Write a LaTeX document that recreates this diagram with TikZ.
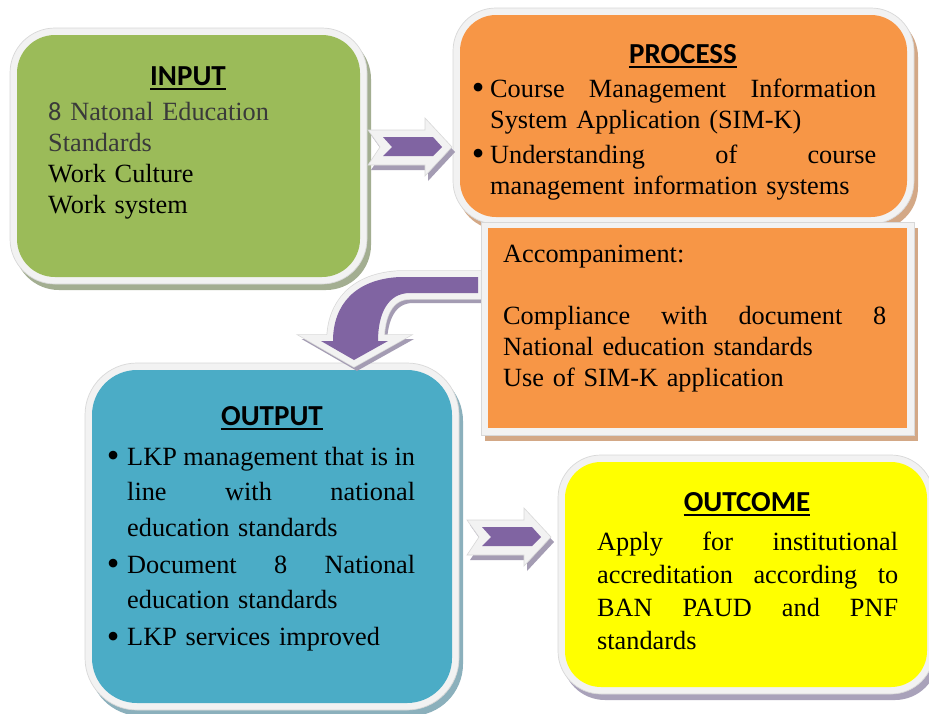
\documentclass[tikz,border=0pt]{standalone}
\usepackage{fontspec}
\setmainfont{Liberation Serif}
\newfontfamily\carlito{Carlito}
\usetikzlibrary{calc}
\definecolor{grn}{HTML}{9BBB59}
\definecolor{org}{HTML}{F79646}
\definecolor{blu}{HTML}{4BACC6}
\definecolor{yel}{HTML}{FFFF00}
\definecolor{pur}{HTML}{8064A2}
\definecolor{wb}{HTML}{F2F2F2}
\definecolor{wbl}{HTML}{D8D8D8}
\definecolor{grsh}{HTML}{A3AE91}
\definecolor{orsh}{HTML}{D3A886}
\definecolor{blsh}{HTML}{8BB0BC}
\definecolor{yesh}{HTML}{A9A2BA}
\definecolor{arsh}{HTML}{A49CB3}
\definecolor{dg}{HTML}{3A3A3A}
\newcommand\bul[1]{\leavevmode\llap{\raisebox{-2.6pt}{\fontsize{36}{36}\selectfont\textbullet}\hspace{#1}}}
\newcommand\jl[2]{\leavevmode\hbox to #1pt{#2}}
\newcommand\sh{\hskip 6.6pt minus 4pt\relax}
% box: x1 y1 x2 y2 radius fill shadow
\newcommand\mybox[7]{%
  \fill[#7,rounded corners=#5+7] (#1-7+4,#2-7+6) rectangle (#3+7+4,#4+7+6);
  \filldraw[fill=wb,draw=wbl,line width=0.7,rounded corners=#5+7] (#1-7,#2-7) rectangle (#3+7,#4+7);
  \fill[#6,rounded corners=#5] (#1,#2) rectangle (#3,#4);}
\newcommand\rarrow[2]{%
  \begin{scope}[shift={(#1,#2)}]
    \fill[arsh] (-15+3,-17+5) -- (42+3,-17+5) -- (42+3,-29+5) -- (69+3,0+5) -- (42+3,29+5) -- (42+3,18+5) -- (-15+3,18+5) -- (-3+3,0+5) -- cycle;
    \filldraw[fill=wb,draw=wbl,line width=0.6] (-15,-17) -- (42,-17) -- (42,-29) -- (69,0) -- (42,29) -- (42,18) -- (-15,18) -- (-3,0) -- cycle;
    \fill[pur] (0,-10) -- (50,-10) -- (59,0) -- (50,9) -- (0,9) -- (9,0) -- cycle;
  \end{scope}}
\newcommand\ttlul[1]{\draw[line width=1.8] ($(#1.base west)+(0,4)$) -- ($(#1.base east)+(0,4)$);}
\begin{document}
\begin{tikzpicture}[x=1pt,y=-1pt,
  ttl/.style={font=\carlito\bfseries\fontsize{29}{34}\selectfont,inner sep=0,anchor=base},
  body/.style={font=\fontsize{26.3}{31}\selectfont,inner sep=0,anchor=base west}]
\useasboundingbox (0,0) rectangle (929,713);
\fill[white] (0,0) rectangle (929,713);
\clip (0,0) rectangle (929,713);
% boxes
\mybox{17}{35}{360}{277}{38}{grn}{grsh}
\mybox{460}{15}{907}{217}{36}{org}{orsh}
\mybox{92}{370}{452}{703}{45}{blu}{blsh}
\mybox{565}{462}{927}{687}{36}{yel}{yesh}
% curved arrow
\begin{scope}[shift={(3,4)}]
\filldraw[arsh,line width=12,line join=miter] (478,277) -- (400,277) .. controls (355,279) and (333,305) .. (333,341) -- (321,341) -- (354,360) -- (388,341) -- (378,341) .. controls (378,315) and (387,293) .. (410,293) -- (478,293) -- cycle;
\end{scope}
\draw[wbl,line width=13.4,line join=miter] (478,277) -- (400,277) .. controls (355,279) and (333,305) .. (333,341) -- (321,341) -- (354,360) -- (388,341) -- (378,341) .. controls (378,315) and (387,293) .. (410,293) -- (478,293) -- cycle;
\draw[wb,line width=12,line join=miter] (478,277) -- (400,277) .. controls (355,279) and (333,305) .. (333,341) -- (321,341) -- (354,360) -- (388,341) -- (378,341) .. controls (378,315) and (387,293) .. (410,293) -- (478,293) -- cycle;
\fill[pur] (478,277) -- (400,277) .. controls (355,279) and (333,305) .. (333,341) -- (321,341) -- (354,360) -- (388,341) -- (378,341) .. controls (378,315) and (387,293) .. (410,293) -- (478,293) -- cycle;
% accompaniment box
\fill[orsh] (485,228) rectangle (918,441);
\filldraw[fill=wb,draw=wbl,line width=0.7] (481,222) rectangle (914,435);
\fill[org] (488,228) rectangle (907,428);
% straight arrows
\rarrow{383}{147}
\rarrow{482}{537}
% texts
\node[ttl] (inT) at (188,85) {INPUT}; \ttlul{inT}
\node[body,text width=300] (inB) at (48,120) {{\color{dg}{\carlito 8} Natonal Education\\Standards}\\Work Culture\\Work system};
\node[ttl] (prT) at (683,63) {PROCESS}; \ttlul{prT}
\node[body,text width=386] (prB) at (490,97) {\bul{5.7pt}\jl{386}{Course\hfill Management\hfill Information}\\System Application (SIM-K)\par\vspace{4pt}\bul{5.7pt}\jl{386}{Understanding\hfill of\hfill course}\\management information systems};
\node[body,text width=383] (acB) at (503,262) {Accompaniment:\\\mbox{}\\\jl{383}{Compliance\hfill with\hfill document\hfill 8}\\National education standards\\Use of SIM-K application};
\node[ttl] (ouT) at (272,425) {OUTPUT}; \ttlul{ouT}
\node[body,text width=288,font=\fontsize{26.3}{35.5}\selectfont] (ouB) at (127,465) {\bul{7.7pt}\jl{288}{LKP\sh management\sh that\sh is\sh in}\\\jl{288}{line\hfill with\hfill national}\\education standards\par\vspace{1.5pt}\bul{7.7pt}\jl{288}{Document\hfill 8\hfill National}\\education standards\par\vspace{1.5pt}\bul{7.7pt}LKP services improved};
\node[ttl] (ocT) at (747,511) {OUTCOME}; \ttlul{ocT}
\node[body,text width=301,font=\fontsize{26.3}{33}\selectfont] (ocB) at (597,550) {\jl{301}{Apply\hfill for\hfill institutional}\\\jl{301}{accreditation\hfill according\hfill to}\\\jl{301}{BAN\hfill PAUD\hfill and\hfill PNF}\\standards};
\end{tikzpicture}
\end{document}
